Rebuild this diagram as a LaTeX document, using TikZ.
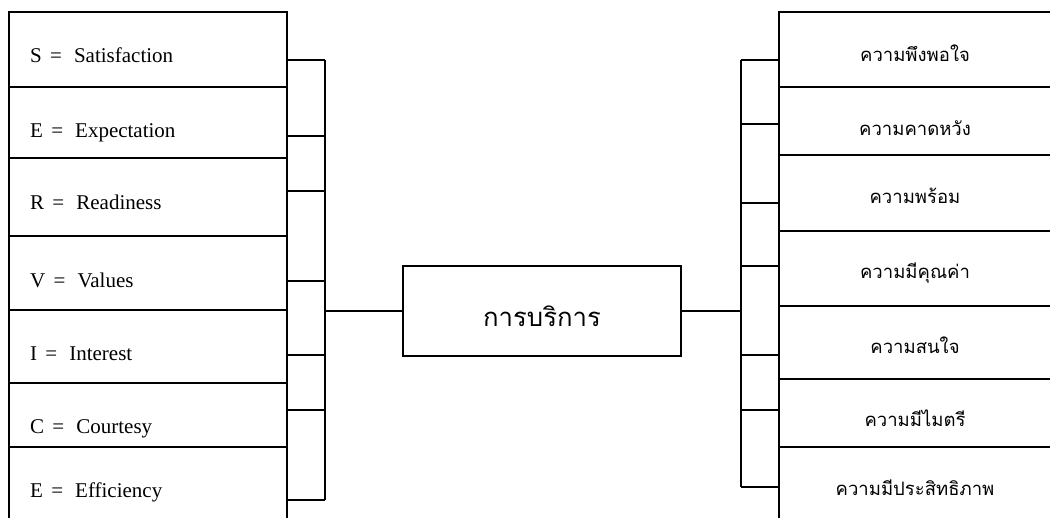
\documentclass[tikz,border=0pt]{standalone}
\usepackage{fontspec}
\setmainfont{Liberation Serif}
\newfontfamily\thaifont[Script=Thai]{Loma}
\begin{document}
\begin{tikzpicture}[x=1pt,y=-1pt,
  line width=2pt,
  box/.style={draw=black,line width=2pt,inner sep=0pt},
  ltext/.style={anchor=base west,inner sep=0pt,font=\fontsize{21}{24}\selectfont},
  rtext/.style={anchor=base,inner sep=0pt,font=\thaifont\fontsize{18.5}{22}\selectfont},
  ctext/.style={anchor=base,inner sep=0pt,font=\thaifont\fontsize{25.7}{30}\selectfont}]
\newcommand{\lbl}[2]{#1\hspace{8.5pt}=\hspace{12pt}#2}
\clip (0,0) rectangle (1050,517);
% left column boxes
\node[box,minimum width=278pt,minimum height=75pt] (l1) at (148,49.5) {};
\node[box,minimum width=278pt,minimum height=71pt] (l2) at (148,122.5) {};
\node[box,minimum width=278pt,minimum height=78pt] (l3) at (148,197) {};
\node[box,minimum width=278pt,minimum height=74pt] (l4) at (148,273) {};
\node[box,minimum width=278pt,minimum height=73pt] (l5) at (148,346.5) {};
\node[box,minimum width=278pt,minimum height=64pt] (l6) at (148,415) {};
\node[box,minimum width=278pt,minimum height=83pt] (l7) at (148,488.5) {};
\node[ltext] (t1) at (29,62) {\lbl{S}{Satisfaction}};
\node[ltext] (t2) at (29,137) {\lbl{E}{Expectation}};
\node[ltext] (t3) at (29,209) {\lbl{R}{Readiness}};
\node[ltext] (t4) at (29,287) {\lbl{V}{Values}};
\node[ltext] (t5) at (29,360) {\lbl{I}{Interest}};
\node[ltext] (t6) at (29,433) {\lbl{C}{Courtesy}};
\node[ltext] (t7) at (29,497) {\lbl{E}{Efficiency}};
% right column boxes
\node[box,minimum width=281pt,minimum height=75pt] (r1) at (919.5,49.5) {};
\node[box,minimum width=281pt,minimum height=68pt] (r2) at (919.5,121) {};
\node[box,minimum width=281pt,minimum height=76pt] (r3) at (919.5,193) {};
\node[box,minimum width=281pt,minimum height=75pt] (r4) at (919.5,268.5) {};
\node[box,minimum width=281pt,minimum height=73pt] (r5) at (919.5,342.5) {};
\node[box,minimum width=281pt,minimum height=68pt] (r6) at (919.5,413) {};
\node[box,minimum width=281pt,minimum height=83pt] (r7) at (919.5,488.5) {};
\node[rtext] (s1) at (915,61) {ความพึงพอใจ};
\node[rtext] (s2) at (915,135) {ความคาดหวัง};
\node[rtext] (s3) at (915,203) {ความพร้อม};
\node[rtext] (s4) at (915,278) {ความมีคุณค่า};
\node[rtext] (s5) at (915,353) {ความสนใจ};
\node[rtext] (s6) at (915,426) {ความมีไมตรี};
\node[rtext] (s7) at (915,495) {ความมีประสิทธิภาพ};
% center box
\node[box,minimum width=278pt,minimum height=90pt] (c) at (542,311) {};
\node[ctext] (ct) at (542,326) {การบริการ};
% left bracket
\coordinate (lb) at (325,0);
\coordinate (rb) at (741,0);
\foreach \n/\y in {1/60,2/136,3/191,4/281,5/355,6/410,7/500}
  \draw (l\n.east |- 0,\y) -- (lb |- 0,\y);
\draw (lb |- 0,60) -- (lb |- 0,500);
\draw (lb |- c.west) -- (c.west);
% right bracket
\foreach \n/\y in {1/60,2/124,3/203,4/266,5/355,6/410,7/487}
  \draw (r\n.west |- 0,\y) -- (rb |- 0,\y);
\draw (rb |- 0,60) -- (rb |- 0,487);
\draw (c.east) -- (rb |- c.east);
\end{tikzpicture}
\end{document}
